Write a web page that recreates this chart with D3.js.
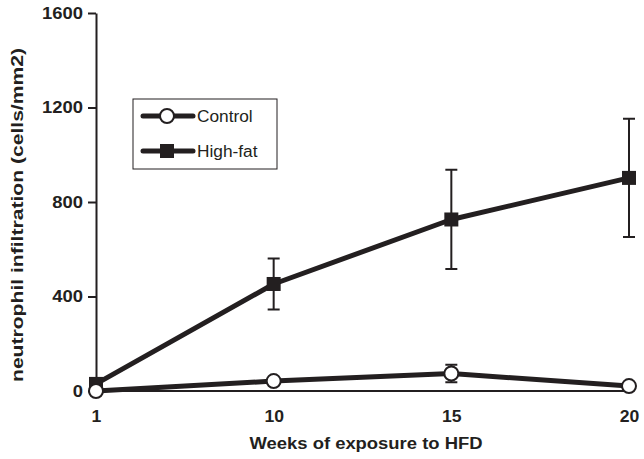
<!DOCTYPE html>
<html>
<head>
<meta charset="utf-8">
<script src="https://cdn.jsdelivr.net/npm/d3@7"></script>
<style>
  body { margin: 0; background: #fff; }
  svg { font-family: "Liberation Sans", Arial, sans-serif; }
</style>
</head>
<body>
<svg width="644" height="459"></svg>
<script>
var weeks = ["1", "10", "15", "20"];
var controlMean = [0, 42, 74, 21];
var controlErr = [0, 0, 37, 0];
var highFatMean = [30, 453, 726, 902];
var highFatErr = [0, 108, 210, 250];
var yTicks = [0, 400, 800, 1200, 1600];

var svg = d3.select("svg");
var ink = "#231f20";

var x = d3.scalePoint().domain(weeks).range([96, 629]);
var y = d3.scaleLinear().domain([0, 1600]).range([391, 13]);

// the reference text is a bit wider than Liberation, so stretch it
function widen(sel, k) {
    sel.each(function() {
        var w = this.getComputedTextLength();
        d3.select(this).attr("textLength", w * k).attr("lengthAdjust", "spacingAndGlyphs");
    });
}

// y axis
var yAxis = svg.append("g").attr("transform", "translate(96,0)")
    .call(d3.axisLeft(y).tickValues(yTicks).tickFormat(d3.format("d"))
        .tickSize(8).tickPadding(5).tickSizeOuter(0));
yAxis.select(".domain").attr("stroke", ink).attr("stroke-width", 2);
yAxis.selectAll(".tick line").attr("stroke", ink).attr("stroke-width", 2);
yAxis.selectAll("text").attr("font-size", 16).attr("font-weight", "bold").attr("fill", ink)
    .attr("font-family", "Liberation Sans, Arial, sans-serif");
widen(yAxis.selectAll("text"), 1.15);

// x axis
var xAxis = svg.append("g").attr("transform", "translate(0,391)")
    .call(d3.axisBottom(x).tickSize(0).tickPadding(20));
xAxis.select(".domain").attr("stroke", ink).attr("stroke-width", 2).attr("d", "M96,0H634");
xAxis.selectAll("text").attr("font-size", 16).attr("font-weight", "bold").attr("fill", ink)
    .attr("font-family", "Liberation Sans, Arial, sans-serif");
widen(xAxis.selectAll("text"), 1.1);

// titles
svg.append("text").attr("x", 366).attr("y", 449).attr("text-anchor", "middle")
    .attr("font-size", 16).attr("font-weight", "bold").attr("fill", ink)
    .attr("textLength", 233).attr("lengthAdjust", "spacingAndGlyphs")
    .text("Weeks of exposure to HFD");
svg.append("text").attr("transform", "translate(23,215) rotate(-90)").attr("text-anchor", "middle")
    .attr("font-size", 16).attr("font-weight", "bold").attr("fill", ink)
    .attr("textLength", 334).attr("lengthAdjust", "spacingAndGlyphs")
    .text("neutrophil infiltration (cells/mm2)");

function drawSeries(mean, err, marker) {
    var pts = weeks.map(function(w, i) { return {w: w, m: mean[i], e: err[i]}; });
    var line = d3.line().x(function(d) { return x(d.w); }).y(function(d) { return y(d.m); });
    pts.forEach(function(d) {
        if (d.e > 0) {
            var cx = x(d.w);
            svg.append("path")
                .attr("d", "M" + cx + "," + y(d.m + d.e) + "V" + y(d.m - d.e)
                    + "M" + (cx - 6) + "," + y(d.m + d.e) + "h12"
                    + "M" + (cx - 6) + "," + y(d.m - d.e) + "h12")
                .attr("stroke", ink).attr("stroke-width", 2).attr("fill", "none");
        }
    });
    svg.append("path").datum(pts).attr("d", line)
        .attr("fill", "none").attr("stroke", ink).attr("stroke-width", 5).attr("stroke-linejoin", "round");
    pts.forEach(function(d) {
        if (marker == "circle") {
            svg.append("circle").attr("cx", x(d.w)).attr("cy", y(d.m)).attr("r", 7)
                .attr("fill", "#fff").attr("stroke", ink).attr("stroke-width", 2);
        } else {
            svg.append("rect").attr("x", x(d.w) - 7).attr("y", y(d.m) - 7)
                .attr("width", 14).attr("height", 14).attr("fill", ink);
        }
    });
}

drawSeries(highFatMean, highFatErr, "square");
drawSeries(controlMean, controlErr, "circle");

// legend
svg.append("rect").attr("x", 133).attr("y", 99).attr("width", 144).attr("height", 70)
    .attr("fill", "#fff").attr("stroke", ink).attr("stroke-width", 1);
var legend = [{name: "Control", marker: "circle"}, {name: "High-fat", marker: "square"}];
legend.forEach(function(l, i) {
    var ly = 116 + i * 35;
    svg.append("line").attr("x1", 143).attr("x2", 193).attr("y1", ly).attr("y2", ly)
        .attr("stroke", ink).attr("stroke-width", 5).attr("stroke-linecap", "round");
    if (l.marker == "circle") {
        svg.append("circle").attr("cx", 167).attr("cy", ly).attr("r", 7)
            .attr("fill", "#fff").attr("stroke", ink).attr("stroke-width", 2);
    } else {
        svg.append("rect").attr("x", 160).attr("y", ly - 7).attr("width", 14).attr("height", 14).attr("fill", ink);
    }
    var t = svg.append("text").attr("x", 197).attr("y", ly + 6).attr("font-size", 16).attr("fill", ink).text(l.name);
    widen(t, 1.08);
});
</script>
</body>
</html>
